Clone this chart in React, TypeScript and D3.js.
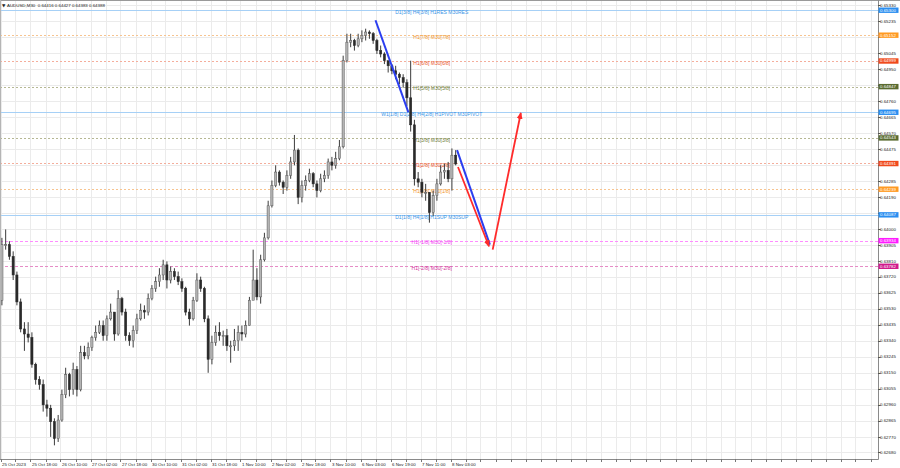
import React, { useEffect, useRef } from "react";
import * as d3 from "d3";

// AUDUSD M30 in 2-hour steps (4 bars per candle)
const firstOpen = 0.6358;
const closes = [
  0.6391, 0.6391, 0.6384, 0.6373, 0.6357, 0.6341, 0.6338, 0.6336, 0.632, 0.6311,
  0.6308, 0.6296, 0.6294, 0.6286, 0.6276, 0.6287, 0.6302, 0.6314, 0.6305, 0.6317,
  0.6305, 0.6327, 0.6325, 0.633, 0.6336, 0.6339, 0.6343, 0.6337, 0.6347, 0.6351,
  0.6338, 0.6359, 0.6351, 0.6337, 0.6334, 0.634, 0.6347, 0.6352, 0.6351, 0.6359,
  0.6365, 0.6369, 0.6373, 0.6379, 0.637, 0.6375, 0.6372, 0.6369, 0.6365, 0.6351,
  0.6347, 0.6358, 0.637, 0.6365, 0.6347, 0.6323, 0.6333, 0.6339, 0.6337, 0.6337,
  0.6331, 0.6331, 0.6334, 0.6339, 0.6338, 0.6343, 0.6358, 0.637, 0.636, 0.6382,
  0.6395, 0.6414, 0.6426, 0.6434, 0.6428, 0.6425, 0.6432, 0.644, 0.6447, 0.6419,
  0.6426, 0.6429, 0.6433, 0.6427, 0.6423, 0.643, 0.6432, 0.644, 0.6438, 0.6442,
  0.6449, 0.65, 0.6511, 0.6512, 0.6509, 0.6513, 0.6515, 0.6517, 0.6516, 0.6512,
  0.6506, 0.6504, 0.65, 0.6497, 0.6494, 0.6492, 0.649, 0.6487, 0.6478, 0.6462,
  0.643, 0.6428, 0.6422, 0.6422, 0.641, 0.642, 0.6427, 0.6434, 0.6435, 0.643,
  0.6444, 0.64388,
];
const highs = [
  0.6395, 0.64, 0.6393, 0.6387, 0.6375, 0.6359, 0.6345, 0.6345, 0.6339, 0.6321,
  0.6313, 0.6311, 0.6299, 0.6296, 0.6288, 0.629, 0.6305, 0.6318, 0.6315, 0.6321,
  0.6319, 0.6331, 0.6331, 0.6333, 0.6337, 0.6343, 0.6346, 0.6346, 0.6349, 0.6356,
  0.6351, 0.6364, 0.636, 0.6353, 0.6339, 0.6343, 0.635, 0.6356, 0.6355, 0.6362,
  0.6367, 0.6372, 0.6377, 0.6382, 0.6381, 0.6378, 0.6377, 0.6375, 0.6371, 0.6366,
  0.6353, 0.636, 0.6374, 0.6372, 0.6366, 0.6349, 0.6337, 0.6343, 0.6345, 0.634,
  0.6341, 0.6334, 0.6341, 0.6343, 0.6343, 0.6346, 0.636, 0.6388, 0.6377, 0.6385,
  0.6398, 0.6417, 0.6429, 0.6438, 0.6435, 0.6429, 0.6435, 0.6443, 0.6456, 0.6448,
  0.6429, 0.6432, 0.6436, 0.6434, 0.6429, 0.6433, 0.6435, 0.6442, 0.6443, 0.6446,
  0.6453, 0.6503, 0.6516, 0.6516, 0.6513, 0.6516, 0.6518, 0.6519, 0.6518, 0.6517,
  0.6513, 0.6509, 0.6505, 0.65, 0.6498, 0.6497, 0.6493, 0.6492, 0.6489, 0.65,
  0.6465, 0.6434, 0.643, 0.6427, 0.6422, 0.6423, 0.643, 0.6438, 0.6439, 0.644,
  0.6448, 0.6447,
];
const lows = [
  0.6355, 0.6388, 0.6382, 0.637, 0.6355, 0.6339, 0.6328, 0.6333, 0.6318, 0.6308,
  0.6305, 0.6292, 0.6289, 0.6277, 0.6272, 0.6274, 0.6286, 0.63, 0.6301, 0.6302,
  0.6301, 0.6304, 0.6323, 0.6323, 0.6328, 0.6334, 0.6338, 0.6334, 0.6334, 0.6346,
  0.6334, 0.6337, 0.6349, 0.6334, 0.6331, 0.633, 0.6338, 0.6346, 0.6347, 0.6349,
  0.6358, 0.6363, 0.6366, 0.637, 0.6365, 0.6368, 0.637, 0.6367, 0.6363, 0.6349,
  0.6343, 0.6346, 0.6357, 0.6363, 0.6345, 0.6315, 0.632, 0.6331, 0.6334, 0.6331,
  0.6328, 0.6321, 0.6328, 0.6328, 0.6334, 0.6336, 0.6343, 0.6359, 0.6358, 0.6356,
  0.6381, 0.6394, 0.6413, 0.6425, 0.6426, 0.6421, 0.6423, 0.643, 0.6438, 0.6415,
  0.6416, 0.6423, 0.6428, 0.6425, 0.6419, 0.6422, 0.6428, 0.643, 0.6435, 0.6436,
  0.6441, 0.6448, 0.6499, 0.6508, 0.6506, 0.6508, 0.6511, 0.6512, 0.6513, 0.651,
  0.6504, 0.6502, 0.6498, 0.6493, 0.6492, 0.6489, 0.6486, 0.6484, 0.6473, 0.6458,
  0.6426, 0.6425, 0.6419, 0.6417, 0.6404, 0.6408, 0.6417, 0.6426, 0.643, 0.6428,
  0.6423, 0.6438,
];
const barsPerCandle = 4;

const timeLabels = [
  "25 Oct 2023", "25 Oct 18:00", "26 Oct 10:00", "27 Oct 02:00", "27 Oct 18:00",
  "30 Oct 10:00", "31 Oct 02:00", "31 Oct 18:00", "1 Nov 10:00", "2 Nov 02:00",
  "2 Nov 18:00", "3 Nov 10:00", "6 Nov 03:00", "6 Nov 19:00", "7 Nov 11:00", "8 Nov 03:00",
];
const barsPerLabel = 32;

const priceTicks = [
  0.6533, 0.65235, 0.6514, 0.65045, 0.6495, 0.64855, 0.6476, 0.64665, 0.6457, 0.64475,
  0.6438, 0.64285, 0.6419, 0.64095, 0.64, 0.63905, 0.6381, 0.6372, 0.63625, 0.6353,
  0.63435, 0.6334, 0.63245, 0.6315, 0.63055, 0.6296, 0.62865, 0.6277, 0.6268,
];

// Murrey levels
const levelNames = [
  "D1[3/8] H4[3/8] H1RES M30RES", "H1[7/8] M30[7/8]", "H1[6/8] M30[6/8]", "H1[5/8] M30[5/8]",
  "W1[1/8] D1[2/8] H4[2/8] H1PIVOT M30PIVOT", "H1[3/8] M30[3/8]", "H1[2/8] M30[2/8]",
  "H1[1/8] M30[1/8]", "D1[1/8] H4[1/8] H1SUP M30SUP", "H1[-1/8] M30[-1/8]", "H1[-2/8] M30[-2/8]",
];
const levelPrices = [0.653, 0.65152, 0.64999, 0.64847, 0.64695, 0.64543, 0.64391, 0.64239, 0.64087, 0.63934, 0.63782];
const levelKinds = ["blue", "orange", "red", "olive", "blue", "olive", "red", "orange", "blue", "magenta", "violet"];

// projection lines: [start bar, end bar] and [start price, end price]
const blueBars = [[400, 435], [487, 522]];
const bluePrices = [[0.6524, 0.64695], [0.6447, 0.6391]];
const redBars = [[488, 521], [525, 555]];
const redPrices = [[0.6437, 0.639], [0.6388, 0.6469]];

const title = "AUDUSD,M30  0.64416 0.64427 0.64383 0.64388";

const kindStyle: Record<string, { line: string; text: string; box: string; dash: string | null }> = {
  blue: { line: "#a6d0f6", text: "#3b95e6", box: "#2b8ef0", dash: null },
  orange: { line: "#f7c490", text: "#f2962a", box: "#ff9a22", dash: "2,2" },
  red: { line: "#f4ae9c", text: "#e8552a", box: "#f04a1c", dash: "2,2" },
  olive: { line: "#b6b894", text: "#6f7d3a", box: "#5a6b30", dash: "2,2" },
  magenta: { line: "#ff8cff", text: "#f03cf0", box: "#ff1aff", dash: "3,2" },
  violet: { line: "#e68cc6", text: "#d2309a", box: "#d01a8c", dash: "3,2" },
};

const W = 900;
const H = 468;
const plotRight = 878;
const plotBottom = 459;
const FONT = "'Liberation Sans', Arial, sans-serif";

export default function App() {
  const svgRef = useRef<SVGSVGElement | null>(null);

  useEffect(() => {
    if (!svgRef.current) return;
    const svg = d3.select(svgRef.current);
    svg.selectAll("*").remove();

    const x = d3.scaleLinear().domain([0, 480]).range([0.5, 450.5]);
    const y = d3.scaleLinear().domain([0.62639, 0.6536]).range([plotBottom, 0]);

    svg.append("rect").attr("width", W).attr("height", H).attr("fill", "#fff");

    const defs = svg.append("defs");
    defs
      .append("marker")
      .attr("id", "arrowRed")
      .attr("markerUnits", "userSpaceOnUse")
      .attr("markerWidth", 7)
      .attr("markerHeight", 6)
      .attr("refX", 6)
      .attr("refY", 3)
      .attr("orient", "auto")
      .append("path")
      .attr("d", "M0,0 L7,3 L0,6 Z")
      .attr("fill", "#ff2b2b");

    // grid
    const vGrid = d3.range(0, 940, 16).filter((b) => x(b) < plotRight);
    svg
      .append("g")
      .selectAll("line")
      .data(vGrid)
      .join("line")
      .attr("x1", (d) => Math.round(x(d)) + 0.5)
      .attr("x2", (d) => Math.round(x(d)) + 0.5)
      .attr("y1", 0)
      .attr("y2", plotBottom + 3)
      .attr("stroke", "#ebebeb");
    svg
      .append("g")
      .selectAll("line")
      .data(priceTicks)
      .join("line")
      .attr("x1", 0)
      .attr("x2", plotRight + 3)
      .attr("y1", (d) => Math.round(y(d)) + 0.5)
      .attr("y2", (d) => Math.round(y(d)) + 0.5)
      .attr("stroke", "#ebebeb");

    // level lines
    const levels = levelPrices.map((p, i) => ({ p, name: levelNames[i], s: kindStyle[levelKinds[i]] }));
    const lg = svg.append("g");
    lg.selectAll("line")
      .data(levels)
      .join("line")
      .attr("x1", 0)
      .attr("x2", plotRight)
      .attr("y1", (d) => Math.round(y(d.p)) + 0.5)
      .attr("y2", (d) => Math.round(y(d.p)) + 0.5)
      .attr("stroke", (d) => d.s.line)
      .attr("stroke-width", 1)
      .attr("stroke-dasharray", (d) => d.s.dash);

    // candles
    const candles = closes.map((c, i) => ({
      i,
      open: i === 0 ? firstOpen : closes[i - 1],
      close: c,
      high: highs[i],
      low: lows[i],
    }));
    const cg = svg.append("g");
    const bodyW = 2.2;
    cg.selectAll("line")
      .data(candles)
      .join("line")
      .attr("x1", (d) => x(d.i * barsPerCandle + 1.5))
      .attr("x2", (d) => x(d.i * barsPerCandle + 1.5))
      .attr("y1", (d) => y(d.high))
      .attr("y2", (d) => y(d.low))
      .attr("stroke", "#3c3c3c")
      .attr("stroke-width", 1);
    cg.selectAll("rect")
      .data(candles)
      .join("rect")
      .attr("x", (d) => x(d.i * barsPerCandle + 1.5) - bodyW / 2)
      .attr("width", bodyW)
      .attr("y", (d) => y(Math.max(d.open, d.close)))
      .attr("height", (d) => Math.max(1, Math.abs(y(d.open) - y(d.close))))
      .attr("fill", (d) => (d.close >= d.open ? "#b4b4b4" : "#2a2a2a"))
      .attr("stroke", (d) => (d.close >= d.open ? "#5a5a5a" : "#2a2a2a"))
      .attr("stroke-width", 0.5);

    // level labels
    lg.selectAll("text")
      .data(levels)
      .join("text")
      .attr("x", x(460))
      .attr("y", (d) => y(d.p) + 3.8)
      .attr("text-anchor", "middle")
      .attr("fill", (d) => d.s.text)
      .style("font-size", "5px")
      .style("font-family", FONT)
      .text((d) => d.name);

    // projections
    const pg = svg.append("g");
    pg.selectAll("line.blue")
      .data(blueBars.map((b, i) => ({ b, p: bluePrices[i] })))
      .join("line")
      .attr("class", "blue")
      .attr("x1", (d) => x(d.b[0]))
      .attr("x2", (d) => x(d.b[1]))
      .attr("y1", (d) => y(d.p[0]))
      .attr("y2", (d) => y(d.p[1]))
      .attr("stroke", "#2b3ef0")
      .attr("stroke-width", 2);
    pg.selectAll("line.red")
      .data(redBars.map((b, i) => ({ b, p: redPrices[i] })))
      .join("line")
      .attr("class", "red")
      .attr("x1", (d) => x(d.b[0]))
      .attr("x2", (d) => x(d.b[1]))
      .attr("y1", (d) => y(d.p[0]))
      .attr("y2", (d) => y(d.p[1]))
      .attr("stroke", "#ff2b2b")
      .attr("stroke-width", 1.8)
      .attr("marker-end", "url(#arrowRed)");

    // frame
    svg.append("line").attr("x1", 0).attr("x2", W).attr("y1", 0.5).attr("y2", 0.5).attr("stroke", "#9a9a9a");
    svg.append("line").attr("x1", 0.5).attr("x2", 0.5).attr("y1", 0).attr("y2", plotBottom).attr("stroke", "#b5b5b5");
    svg
      .append("line")
      .attr("x1", plotRight + 0.5)
      .attr("x2", plotRight + 0.5)
      .attr("y1", 0)
      .attr("y2", plotBottom + 0.5)
      .attr("stroke", "#8a8a8a");
    svg
      .append("line")
      .attr("x1", 0)
      .attr("x2", plotRight + 0.5)
      .attr("y1", plotBottom + 0.5)
      .attr("y2", plotBottom + 0.5)
      .attr("stroke", "#8a8a8a");

    // right axis: labels that sit under a level box are covered, as in MT4
    const visibleTicks = priceTicks.filter(
      (t) => !levelPrices.some((p) => Math.abs(y(t) - y(p)) < 3.5)
    );
    const ra = svg.append("g");
    ra.selectAll("line")
      .data(priceTicks)
      .join("line")
      .attr("x1", plotRight)
      .attr("x2", plotRight + 2.5)
      .attr("y1", (d) => Math.round(y(d)) + 0.5)
      .attr("y2", (d) => Math.round(y(d)) + 0.5)
      .attr("stroke", "#555");
    ra.selectAll("text")
      .data(visibleTicks)
      .join("text")
      .attr("x", plotRight + 2)
      .attr("y", (d) => y(d) + 1.6)
      .attr("fill", "#222")
      .style("font-size", "4.4px")
      .style("font-family", FONT)
      .text((d) => d.toFixed(5));

    const boxes = ra.append("g");
    boxes
      .selectAll("rect")
      .data(levels)
      .join("rect")
      .attr("x", plotRight + 0.5)
      .attr("y", (d) => y(d.p) - 2.6)
      .attr("width", 20)
      .attr("height", 5.4)
      .attr("fill", (d) => d.s.box);
    boxes
      .selectAll("text")
      .data(levels)
      .join("text")
      .attr("x", plotRight + 2)
      .attr("y", (d) => y(d.p) + 1.6)
      .attr("fill", "#fff")
      .style("font-size", "4.4px")
      .style("font-family", FONT)
      .text((d) => d.p.toFixed(5));

    // bottom axis
    const ba = svg.append("g");
    ba.selectAll("line")
      .data(vGrid)
      .join("line")
      .attr("x1", (d) => Math.round(x(d)) + 0.5)
      .attr("x2", (d) => Math.round(x(d)) + 0.5)
      .attr("y1", plotBottom)
      .attr("y2", plotBottom + 3)
      .attr("stroke", "#777");
    ba.selectAll("text")
      .data(timeLabels)
      .join("text")
      .attr("x", (_, i) => x(i * barsPerLabel) + 1.5)
      .attr("y", plotBottom + 6.5)
      .attr("fill", "#222")
      .style("font-size", "4.4px")
      .style("font-family", FONT)
      .text((d) => d);

    // title
    svg
      .append("text")
      .attr("x", 2)
      .attr("y", 6.5)
      .attr("fill", "#222")
      .style("font-size", "4.4px")
      .style("font-family", "'DejaVu Sans', sans-serif")
      .text("\u25BC");
    svg
      .append("text")
      .attr("x", 7)
      .attr("y", 6.5)
      .attr("fill", "#222")
      .style("font-size", "4.4px")
      .style("font-family", FONT)
      .style("white-space", "pre")
      .text(title);
  }, []);

  return (
    <svg
      ref={svgRef}
      width={W}
      height={H}
      style={{ position: "absolute", left: 0, top: 0, display: "block" }}
    />
  );
}
